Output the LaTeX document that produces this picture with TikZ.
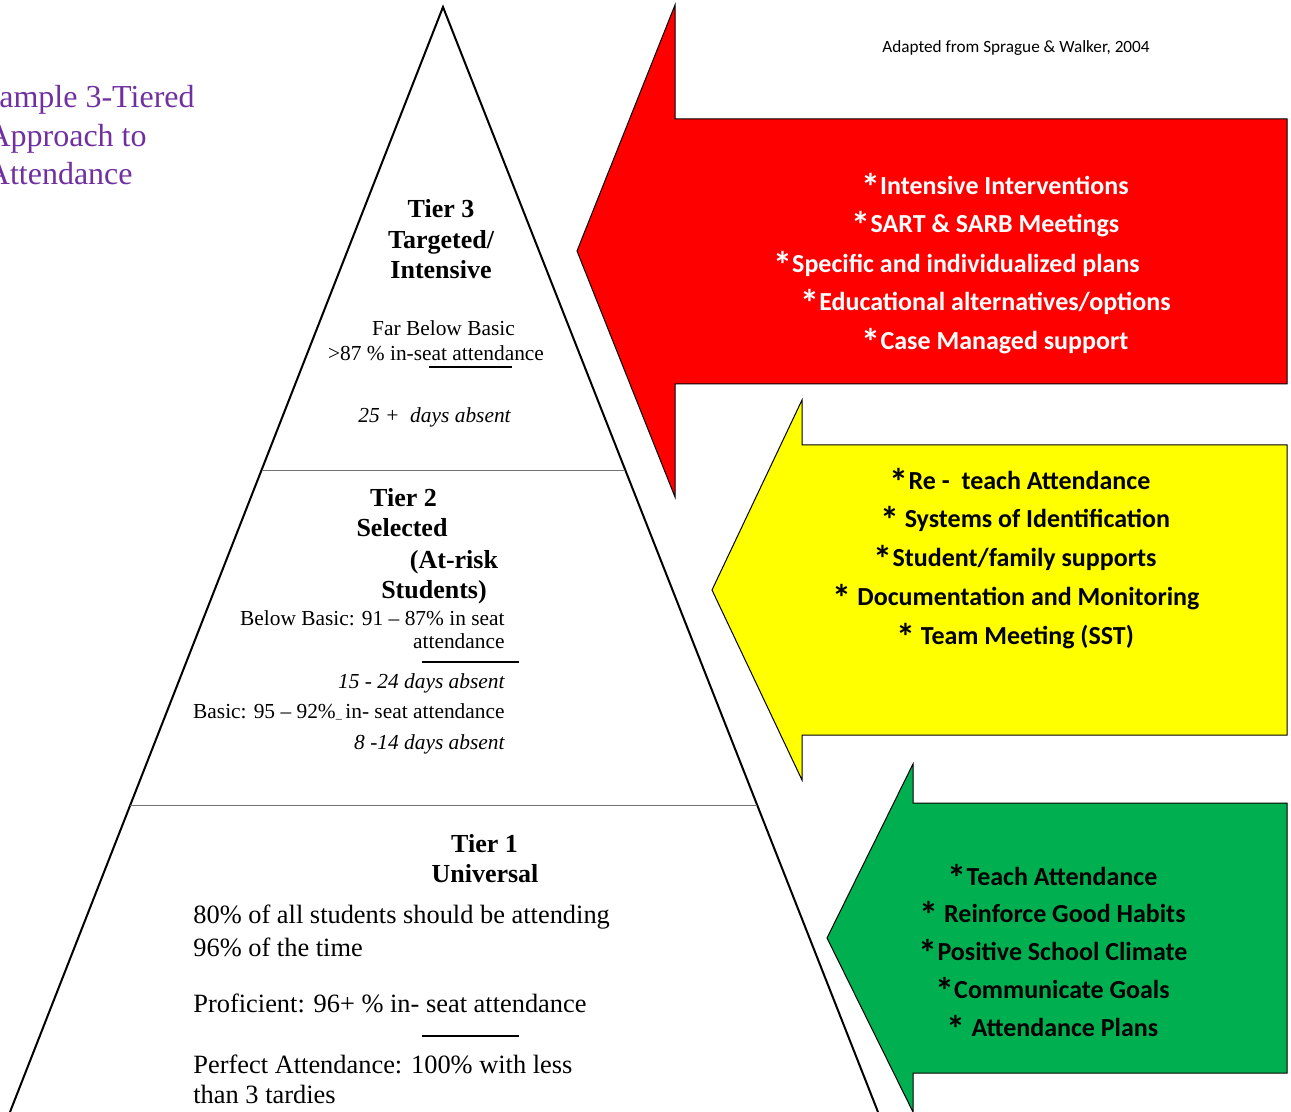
\documentclass[tikz,border=0pt]{standalone}
\usepackage{fontspec}
\setmainfont{Liberation Serif}
\newfontfamily\calibri{Carlito}
\usetikzlibrary{calc}
\definecolor{titlepurple}{HTML}{7030A0}
\definecolor{tierred}{HTML}{FF0000}
\definecolor{tieryellow}{HTML}{FFFF00}
\definecolor{tiergreen}{HTML}{00B050}
% larger bullet asterisk for the intervention lists
\newcommand{\itemstar}{\raisebox{-3pt}{\fontsize{19}{19}\selectfont*}}

\begin{document}
\begin{tikzpicture}[x=0.5pt,y=-0.5pt,
  txt/.style={inner sep=0pt, anchor=base},
  head/.style={txt, font=\fontsize{13}{15.5}\selectfont\bfseries},
  small/.style={txt, font=\fontsize{10.7}{12.5}\selectfont},
  smallit/.style={txt, font=\fontsize{10.7}{12.5}\selectfont\itshape},
  big/.style={txt, anchor=base west, font=\fontsize{13.2}{16}\selectfont},
  ttl/.style={txt, anchor=base east, text=titlepurple, font=\fontsize{16}{19}\selectfont},
  itemw/.style={txt, text=white, font=\calibri\bfseries\fontsize{13}{15}\selectfont},
  itemk/.style={txt, text=black, font=\calibri\bfseries\fontsize{13}{15}\selectfont},
  arrowbody/.style={draw=black, line width=0.5pt, line join=miter},
  side/.style={line width=1pt, line join=miter},
  divider/.style={draw=black!55, line width=0.5pt},
  ulbar/.style={line width=1.2pt},
]
\useasboundingbox (0,0) rectangle (1291,1112);
\clip (0,0) rectangle (1291,1112);

% title
\node[ttl] (ttl1) at (195,108) {Sample 3-Tiered};
\node[ttl] (ttl2) at (147,147) {Approach to};
\node[ttl] (ttl3) at (133,185) {Attendance};

% credit line
\node[txt, font=\calibri\fontsize{8.6}{10}\selectfont] (credit) at (1016,53) {Adapted from Sprague \& Walker, 2004};

% pyramid
\coordinate (apex) at (443,7);
\coordinate (lfoot) at (10,1112);
\coordinate (rfoot) at (878,1112);
\draw[side] (lfoot) -- (apex) -- (rfoot);
\draw[divider] ($(apex)!0.419!(lfoot)$) -- ($(apex)!0.419!(rfoot)$);
\draw[divider] ($(apex)!0.7222!(lfoot)$) -- ($(apex)!0.7222!(rfoot)$);

% tier 3
\node[head] (t3a) at (441,218) {Tier 3};
\node[head] (t3b) at (441,249) {Targeted/};
\node[head] (t3c) at (441,279) {Intensive};
\node[small] (t3d) at (443.5,336) {Far Below Basic};
\node[small] (t3e) at (436,361) {>87 \% in-seat attendance};
\draw[ulbar] (429,367) -- (512,367);
\node[smallit] (t3f) at (434.5,423) {25 +\ \ days absent};

% tier 2
\node[head] (t2a) at (403.5,507) {Tier 2};
\node[head] (t2b) at (402,537) {Selected};
\node[head] (t2c) at (454,568) {(At-risk};
\node[head] (t2d) at (434,598) {Students)};
\node[small, anchor=base east] (t2e) at (505,625) {Below Basic: 91 – 87\% in seat};
\node[small, anchor=base east] (t2f) at (505,648) {attendance};
\draw[ulbar] (422,662) -- (519,662);
\node[smallit, anchor=base east] (t2g) at (505,688) {15 - 24 days absent};
\node[small, anchor=base east] (t2h) at (505,718) {Basic: 95 – 92\%{\fontsize{6}{6}\selectfont\_}\,in- seat attendance};
\node[smallit, anchor=base east] (t2i) at (505,749) {8 -14 days absent};

% tier 1
\node[head] (t1a) at (484.5,852) {Tier 1};
\node[head] (t1b) at (485,882) {Universal};
\node[big] (t1c) at (193,923) {80\% of all students should be attending};
\node[big] (t1d) at (193,956) {96\% of the time};
\node[big] (t1e) at (193,1012) {Proficient: 96+ \% in- seat attendance};
\draw[ulbar] (422,1036) -- (519,1036);
\node[big] (t1f) at (193,1073) {Perfect Attendance: 100\% with less};
\node[big] (t1g) at (193,1103) {than 3 tardies};

% intervention arrows
\draw[arrowbody, fill=tierred] (1287,119) -- (675,119) -- (675,5) -- (577,251) -- (675,497) -- (675,384) -- (1287,384) -- cycle;
\draw[arrowbody, fill=tieryellow] (1287,445) -- (802,445) -- (802,400) -- (712,590) -- (802,780) -- (802,735) -- (1287,735) -- cycle;
\draw[arrowbody, fill=tiergreen] (1287,803) -- (913,803) -- (913,764) -- (827,938) -- (913,1112) -- (913,1073) -- (1287,1073) -- cycle;

% red arrow items
\node[itemw] (r1) at (995,195) {\itemstar Intensive Interventions};
\node[itemw] (r2) at (985.5,233) {\itemstar SART \& SARB Meetings};
\node[itemw] (r3) at (956.5,273) {\itemstar Specific and individualized plans};
\node[itemw] (r4) at (985.5,311) {\itemstar Educational alternatives/options};
\node[itemw] (r5) at (995,350) {\itemstar Case Managed support};

% yellow arrow items
\node[itemk] (y1) at (1020,490) {\itemstar Re -\ \ teach Attendance};
\node[itemk] (y2) at (1025,528) {\itemstar\ Systems of Identification};
\node[itemk] (y3) at (1015,567) {\itemstar Student/family supports};
\node[itemk] (y4) at (1016,605) {\itemstar\ Documentation and Monitoring};
\node[itemk] (y5) at (1015,644) {\itemstar\ Team Meeting (SST)};

% green arrow items
\node[itemk] (g1) at (1052.5,885) {\itemstar Teach Attendance};
\node[itemk] (g2) at (1052.5,922) {\itemstar\ Reinforce Good Habits};
\node[itemk] (g3) at (1053,960) {\itemstar Positive School Climate};
\node[itemk] (g4) at (1052.5,998) {\itemstar Communicate Goals};
\node[itemk] (g5) at (1052.5,1036) {\itemstar\ Attendance Plans};
\end{tikzpicture}
\end{document}
